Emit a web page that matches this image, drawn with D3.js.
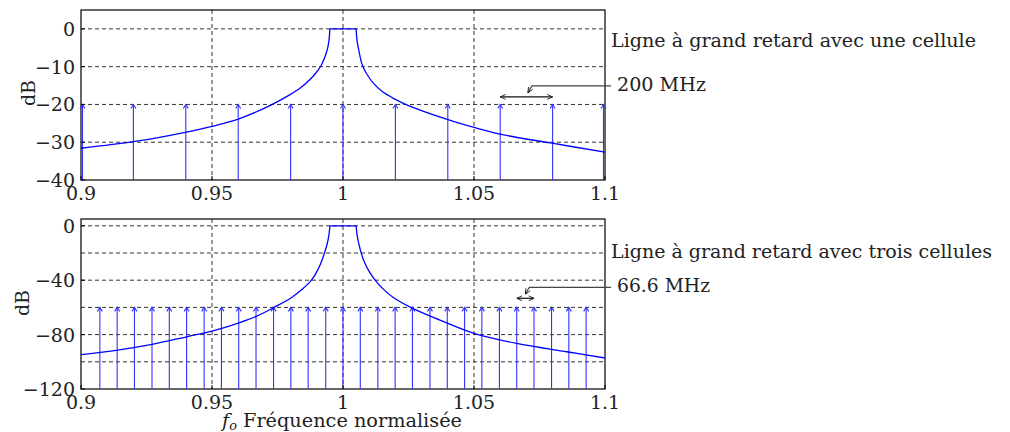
<!DOCTYPE html>
<html>
<head>
<meta charset="utf-8">
<script src="https://cdn.jsdelivr.net/npm/d3@7/dist/d3.min.js"></script>
<style>
  body { margin: 0; background: #fff; }
</style>
</head>
<body>
<svg id="chart" width="1010" height="432" font-family="'DejaVu Serif', serif"></svg>
<script>
// values
var topCurveF  = [0.9, 0.9206, 0.9403, 0.95, 0.9603, 0.9721, 0.9798, 0.9838, 0.9874, 0.9895, 0.9915, 0.9930, 0.9940, 0.9946, 0.9950,
                  1.0050, 1.0054, 1.0060, 1.0071, 1.0080, 1.0095, 1.0115, 1.0150, 1.0198, 1.0243, 1.0395, 1.05, 1.0595, 1.0792, 1.1];
var topCurveDb = [-31.6, -29.8, -27.3, -25.8, -23.8, -20.3, -17.4, -15.6, -13.4, -11.8, -9.9, -7.6, -5.5, -3.3, 0,
                  0, -3.3, -5.5, -9.0, -10.6, -12.4, -14.3, -16.6, -18.6, -20.1, -23.9, -26.1, -27.8, -30.2, -32.6];

var botCurveF  = [0.9, 0.914, 0.9276, 0.9403, 0.95, 0.9603, 0.9671, 0.9734, 0.9804, 0.9845, 0.9874, 0.9895, 0.9915, 0.9930, 0.9940, 0.9946, 0.9950,
                  1.0050, 1.0054, 1.0060, 1.0071, 1.0084, 1.0105, 1.0128, 1.0158, 1.0192, 1.0262, 1.037, 1.05, 1.0663, 1.0854, 1.1];
var botCurveDb = [-94.8, -91.4, -87, -81.6, -77.4, -71.3, -66.4, -60.3, -52.7, -46.5, -41.2, -35.5, -27.7, -19.5, -13, -7, 0,
                  0, -7, -13, -21, -27.7, -35.2, -41.2, -47.3, -52.7, -60.3, -69.3, -79.1, -86.5, -92.6, -97.2];

var topStems = [0.9, 0.92, 0.94, 0.96, 0.98, 1.0, 1.02, 1.04, 1.06, 1.08, 1.1];
var botStems = [0.9072, 0.9138, 0.9204, 0.9271, 0.9337, 0.9403, 0.947, 0.9536, 0.9602, 0.9668,
                0.9735, 0.9801, 0.9867, 0.9934, 1.0, 1.0066, 1.0133, 1.0199, 1.0265, 1.0332,
                1.0398, 1.0464, 1.053, 1.0597, 1.0663, 1.0729, 1.0796, 1.0862, 1.0928];

var xTicks = [0.9, 0.95, 1, 1.05, 1.1];
var xTickLabels = ["0.9", "0.95", "1", "1.05", "1.1"];
var topGrid = [0, -10, -20, -30];
var topTicks = [0, -10, -20, -30, -40];
var botGrid = [0, -20, -40, -60, -80, -100];
var botTicks = [0, -40, -80, -120];

var topStemDb = -20, botStemDb = -60;
var topSpan = [1.06, 1.08], topSpanDb = -18;
var botSpan = [1.0663, 1.0729], botSpanDb = -53.3;

var svg = d3.select("#chart");

var defs = svg.append("defs");
defs.append("marker").attr("id", "ah").attr("viewBox", "0 0 10 10")
  .attr("refX", 10).attr("refY", 5).attr("markerWidth", 6).attr("markerHeight", 6)
  .attr("orient", "auto-start-reverse").attr("markerUnits", "userSpaceOnUse")
  .append("path").attr("d", "M1,1 L10,5 L1,9").attr("fill", "none").attr("stroke", "#111").attr("stroke-width", 1.4);

var x = d3.scaleLinear().domain([0.9, 1.1]).range([81, 605]);

function label(g, px, py, str, width) {
  var t = g.append("text").attr("x", px).attr("y", py)
    .style("font-size", "18px").attr("fill", "#222").text(str);
  if (width) t.attr("textLength", width).attr("lengthAdjust", "spacingAndGlyphs");
  return t;
}

function panel(cfg) {
  var y = d3.scaleLinear().domain(cfg.domain).range(cfg.range);
  var g = svg.append("g");
  var x0 = x.range()[0], x1 = x.range()[1];
  var yb = cfg.range[0], yt = cfg.range[1];

  // grid
  g.selectAll("line.hg").data(cfg.grid).enter().append("line")
    .attr("x1", x0).attr("x2", x1)
    .attr("y1", function(d) { return y(d); }).attr("y2", function(d) { return y(d); })
    .attr("stroke", "#333").attr("stroke-dasharray", "4,3").attr("stroke-width", 1);
  g.selectAll("line.vg").data(xTicks.slice(1, 4)).enter().append("line")
    .attr("y1", yt).attr("y2", yb)
    .attr("x1", function(d) { return x(d); }).attr("x2", function(d) { return x(d); })
    .attr("stroke", "#333").attr("stroke-dasharray", "4,3").attr("stroke-width", 1);

  // frame
  g.append("rect").attr("x", x0).attr("y", yt).attr("width", x1 - x0).attr("height", yb - yt)
    .attr("fill", "none").attr("stroke", "#000").attr("stroke-width", 1.2);

  // stems with arrow heads
  var stems = g.selectAll("g.stem").data(cfg.stems).enter().append("g");
  function sxOf(d) { return Math.min(Math.max(x(d), x0 + 1.5), x1 - 1.5); }
  stems.append("line")
    .attr("x1", sxOf).attr("x2", sxOf)
    .attr("y1", y(cfg.domain[0])).attr("y2", y(cfg.stemDb))
    .attr("stroke", "#3333ff").attr("stroke-width", 1.1);
  stems.append("path")
    .attr("d", function(d) {
      var sx = sxOf(d), sy = y(cfg.stemDb);
      return "M" + (sx - 2.5) + "," + (sy + 4) + " L" + sx + "," + sy + " L" + (sx + 2.5) + "," + (sy + 4);
    })
    .attr("fill", "none").attr("stroke", "#3333ff").attr("stroke-width", 1.1);

  // response curve: rising flank, flat top, falling flank
  var pts = d3.zip(cfg.cf, cfg.cdb);
  var i0 = pts.findIndex(function(p) { return p[1] === 0; });
  var line = d3.line()
    .x(function(d) { return x(d[0]); })
    .y(function(d) { return y(d[1]); })
    .curve(d3.curveCatmullRom.alpha(0.5));
  var pieces = [pts.slice(0, i0 + 1), pts.slice(i0, i0 + 2), pts.slice(i0 + 1)];
  g.append("path")
    .attr("d", pieces.map(function(p) { return line(p); }).join(""))
    .attr("fill", "none").attr("stroke", "#0000ff").attr("stroke-width", 1.3)
    .attr("stroke-linejoin", "round");

  // ticks inside
  g.selectAll("line.xt").data(xTicks).enter().append("line")
    .attr("x1", function(d) { return x(d); }).attr("x2", function(d) { return x(d); })
    .attr("y1", yb).attr("y2", yb - 4).attr("stroke", "#000");
  g.selectAll("line.yt").data(cfg.ticks).enter().append("line")
    .attr("x1", x0).attr("x2", x0 + 4)
    .attr("y1", function(d) { return y(d); }).attr("y2", function(d) { return y(d); }).attr("stroke", "#000");

  // tick labels
  g.selectAll("text.xl").data(xTicks).enter().append("text")
    .attr("x", function(d) { return x(d); }).attr("y", yb + 20)
    .attr("text-anchor", "middle").style("font-size", "19px").attr("fill", "#222")
    .text(function(d, i) { return xTickLabels[i]; });
  g.selectAll("text.yl").data(cfg.ticks).enter().append("text")
    .attr("x", 75).attr("y", function(d) { return y(d) + 7; })
    .attr("text-anchor", "end").style("font-size", "19px").attr("fill", "#222")
    .text(function(d) { return d < 0 ? "\u2212" + (-d) : String(d); });

  g.append("text")
    .attr("transform", "translate(" + cfg.dbX + "," + cfg.dbY + ") rotate(-90)")
    .attr("text-anchor", "middle").style("font-size", "19px").attr("fill", "#222").text("dB");

  // span annotation
  g.append("line")
    .attr("x1", x(cfg.span[0])).attr("x2", x(cfg.span[1]))
    .attr("y1", y(cfg.spanDb)).attr("y2", y(cfg.spanDb))
    .attr("stroke", "#111").attr("stroke-width", 1.2)
    .attr("marker-start", "url(#ah)").attr("marker-end", "url(#ah)");
  var tipX = (x(cfg.span[0]) + x(cfg.span[1])) / 2 + cfg.tipDx;
  var tipY = y(cfg.spanDb) - 4;
  g.append("path")
    .attr("d", "M" + (x1 + 6) + "," + (tipY - 7) + " L" + (tipX + 4) + "," + (tipY - 7) + " L" + tipX + "," + tipY)
    .attr("fill", "none").attr("stroke", "#444").attr("stroke-width", 1.2)
    .attr("marker-end", "url(#ah)");

  label(g, 611, cfg.titleY, cfg.title, cfg.titleW);
  label(g, 617, cfg.spanY, cfg.spanLabel, cfg.spanW);
}

panel({
  domain: [-40, 5], range: [180, 10],
  grid: topGrid, ticks: topTicks,
  stems: topStems, stemDb: topStemDb,
  cf: topCurveF, cdb: topCurveDb,
  span: topSpan, spanDb: topSpanDb, tipDx: 1.5,
  dbX: 35, dbY: 93,
  title: "Ligne à grand retard avec une cellule", titleY: 47, titleW: 365,
  spanLabel: "200 MHz", spanY: 90.5, spanW: 89
});

panel({
  domain: [-120, 5], range: [389, 219],
  grid: botGrid, ticks: botTicks,
  stems: botStems, stemDb: botStemDb,
  cf: botCurveF, cdb: botCurveDb,
  span: botSpan, spanDb: botSpanDb, tipDx: 0,
  dbX: 29, dbY: 303,
  title: "Ligne à grand retard avec trois cellules", titleY: 258, titleW: 381,
  spanLabel: "66.6 MHz", spanY: 291.5, spanW: 93
});

// x axis label
var xl = svg.append("text").attr("x", 342).attr("y", 427)
  .attr("text-anchor", "middle").style("font-size", "18px").attr("fill", "#222")
  .attr("textLength", 240).attr("lengthAdjust", "spacingAndGlyphs");
xl.append("tspan").style("font-style", "italic").text("f");
xl.append("tspan").attr("dy", 3).style("font-size", "12px").style("font-style", "italic").text("o");
xl.append("tspan").attr("dy", -3).text(" Fréquence normalisée");
</script>
</body>
</html>
